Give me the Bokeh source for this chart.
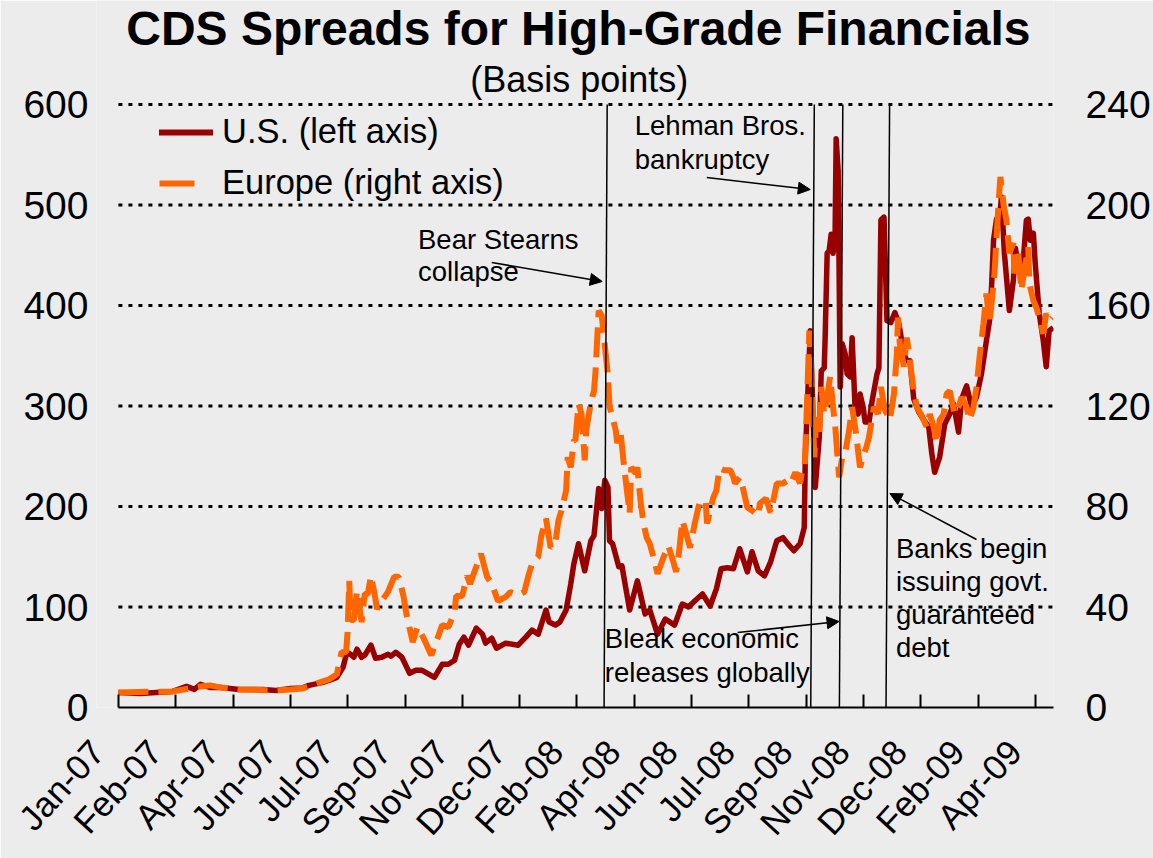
from bokeh.plotting import figure
from bokeh.models import (Range1d, LinearAxis, FixedTicker, Label, Arrow, NormalHead,
                          Legend, LegendItem, ColumnDataSource)
from bokeh.embed import file_html
from bokeh.resources import INLINE

FONT = "Liberation Sans"
BG = "#ECECEC"
US_COLOR = "#990000"
EU_COLOR = "#FF6600"

# ---------------- data ----------------
# x = business-day index from 2 Jan 2007; one axis label every 37 business days
tick_labels = ["Jan-07", "Feb-07", "Apr-07", "Jun-07", "Jul-07", "Sep-07", "Nov-07",
               "Dec-07", "Feb-08", "Apr-08", "Jun-08", "Jul-08", "Sep-08", "Nov-08",
               "Dec-08", "Feb-09", "Apr-09"]
tick_step = 37
last_day = 603.6

# U.S. CDS spreads (basis points, left axis)
us_day = [0, 14, 35, 44, 49, 53, 59, 66, 78, 93, 102, 111, 119, 123, 132, 136, 141, 143, 145, 147,
          149, 152, 154, 157, 159, 163, 166, 170, 174, 176, 179, 183, 188, 192, 196, 204, 209, 213, 217, 220,
          223, 226, 231, 235, 237, 241, 244, 250, 258, 263, 267, 271, 276, 278, 282, 285, 289, 292, 294, 297,
          301, 305, 307, 310, 312, 314, 316, 317, 319, 323, 325, 330, 335, 340, 343, 348, 353, 359, 364, 368,
          372, 377, 382, 386, 389, 393, 397, 401, 406, 409, 413, 417, 421, 425, 429, 432, 436, 440, 442.7, 443.4,
          444.7, 446.6, 448.5, 449.8, 452.4, 453.7, 455.6, 456.2, 457.5, 458.8, 460.1, 461.3, 462.6, 463.3, 464.6, 465.9,
          467.2, 469.1, 470.4, 472.3, 473.6, 475.5, 477.5, 478.7, 480.7, 482.0, 484.5, 486.5, 489.7, 490.9, 492.2, 494.2,
          496.1, 498.6, 501.2, 503.8, 507.0, 508.9, 510.9, 513.4, 516.6, 519.9, 523.1, 525.0, 526.9, 530.1, 533.4, 536.6,
          539.1, 542.3, 544.3, 547.5, 550.7, 553.9, 557.1, 560.3, 562.3, 563.6, 564.9, 566.8, 568.7, 570.0, 571.9, 575.1,
          577.7, 579.0, 581.6, 584.1, 586.1, 587.3, 588.6, 590.6, 591.8, 594.4, 597.0, 598.9, 600.8, 603.4]
us_bp = [15, 14, 16, 21, 18, 23, 20, 20, 18, 18, 17, 19, 19.5, 22, 25, 27, 30, 35, 40, 52,
         54, 50, 58, 50, 52, 62, 49, 50, 53, 51, 55, 50, 34, 37, 37, 30, 43, 43, 47, 63,
         70, 62, 79, 73, 64, 69, 59, 64, 62, 70, 77, 73, 97, 85, 82, 85, 97, 123, 143, 163,
         136, 166, 171, 218, 198, 226, 219, 166, 163, 140, 141, 97, 126, 93, 97, 73, 88, 82, 103, 100,
         106, 113, 101, 118, 138, 139, 138, 158, 135, 155, 136, 131, 145, 166, 169, 163, 156, 163, 179, 250,
         300, 375, 286, 219, 269, 335, 338, 368, 452, 455, 471, 452, 468, 566, 534, 319,
         362, 352, 332, 329, 368, 299, 292, 312, 299, 284, 284, 305, 332, 338, 485, 488,
         385, 383, 393, 382, 352, 345, 345, 307, 294, 286, 279, 253, 234, 249, 282, 292,
         302, 274, 307, 320, 299, 309, 332, 365, 385, 418, 465, 486, 485, 508, 452, 395,
         425, 457, 435, 445, 485, 486, 465, 472, 442, 392, 365, 339, 375, 378]

# Europe CDS spreads (basis points, right axis)
eu_day = [0, 35, 46, 53, 59, 66, 78, 91, 102, 111, 119, 123, 130, 136, 141, 144, 147, 148, 149, 150,
          152, 154, 157, 159, 161, 163, 165, 167, 170, 174, 178, 181, 184, 186, 190, 193, 197, 202, 206, 209,
          213, 217, 218, 222, 225, 227, 231, 234, 238, 241, 245, 250, 253, 258, 262, 265, 267, 271, 273, 276,
          279, 282, 284, 286, 289, 290, 292, 294, 295, 297, 299, 301, 302, 305, 307, 308, 310, 312, 314, 316,
          317, 321, 322, 324, 326, 328, 330, 331, 334, 335, 337, 339, 341, 343, 346, 348, 352, 355, 358, 360,
          362, 364, 366, 369, 372, 375, 379, 380, 384, 386, 388, 391, 395, 397, 398, 401, 403, 406, 409, 413,
          414, 418, 421, 423, 425, 429, 432, 434, 437, 440, 441, 443, 444.7, 446.0, 447.3, 449.2, 450.5, 452.4,
          453.7, 455.6, 457.5, 459.4, 461.3, 462.6, 465.2, 467.2, 469.1, 471.7, 473.6, 476.2, 478.7, 481.3, 482.6, 484.5,
          487.7, 490.3, 492.2, 494.8, 498.0, 500.6, 502.5, 503.2, 504.4, 507.0, 508.9, 510.9, 513.4, 515.4, 518.6, 521.8,
          523.7, 526.3, 528.2, 530.1, 532.7, 534.6, 536.6, 539.8, 542.3, 544.3, 547.5, 549.4, 552.0, 553.9, 555.9, 558.4,
          560.3, 562.3, 563.6, 565.5, 568.1, 569.3, 571.3, 573.2, 575.1, 577.7, 578.3, 580.9, 582.8, 584.8, 587.3, 588.0,
          590.6, 592.5, 594.4, 597.0, 598.9, 600.8, 602.8]
eu_bp = [6, 6.4, 7.6, 8.4, 8.8, 8, 7.2, 7, 6.8, 7.2, 7.6, 8.4, 10, 11.2, 13.2, 22, 22, 30.8, 50.4, 34.8,
         34.8, 46.4, 34, 45.2, 45.2, 52.4, 46.4, 39.2, 42.4, 46, 52, 52, 44.4, 36.8, 26, 32, 27.6, 20.8, 27.6, 32.8,
         32, 38, 44.4, 44.4, 52.4, 49.2, 56, 61.2, 52, 49.2, 42.4, 44, 46, 44.8, 46, 53.2, 57.2, 60, 68.4, 75.2,
         63.6, 65.2, 74.4, 78.4, 86.4, 99.6, 95.6, 106.4, 106.4, 120.8, 116.8, 98.4, 110.4, 121.6, 126, 134, 158, 156, 144, 132,
         120, 110.4, 105.2, 110.4, 98.4, 87.6, 77.2, 95.6, 93.2, 95.6, 82.4, 73.2, 67.6, 65.2, 58.4, 53.2, 60, 64.4, 58.4, 54,
         62.4, 74.4, 70.4, 63.6, 73.2, 81.2, 82.4, 73.2, 83.6, 86.4, 95.2, 94.4, 94.4, 91.6, 89.2, 91.6, 87.6, 79.6, 78.4, 76.4,
         81.2, 83.2, 77.6, 83.2, 89.2, 89.2, 90.4, 89.2, 93.6, 89.2, 93.2, 95.2, 124.8, 150, 132.8, 99.6, 115.6, 108.8,
         127.6, 116.8, 123.6, 131.6, 119.6, 112.8, 91.6, 99.6, 101.2, 110.4, 119.6, 108.8, 95.6, 101.2, 103.2, 107.6,
         119.6, 116.8, 127.6, 118.4, 114.4, 124.8, 140.8, 155.2, 144.8, 135.6, 147.2, 138, 126, 119.6, 116, 111.6,
         116.8, 111.6, 105.2, 114.4, 116.8, 124.8, 126, 116.8, 119.6, 123.6, 119.6, 114.4, 119.6, 127.6, 139.6, 152.8,
         164.8, 152.8, 160.8, 172.8, 200.4, 211.2, 200.4, 194, 180.8, 184.8, 172.8, 180.8, 166, 174, 183.2, 168.8,
         162, 159.2, 155.2, 148.8, 156.8, 154, 155.2]

# Event markers (business-day index at top / bottom of the hand-drawn lines)
event_day_top = [315.5, 449.2, 467.6, 497.8]
event_day_bottom = [313.5, 446.9, 465.4, 495.5]

left_ticks = [0, 100, 200, 300, 400, 500, 600]
right_ticks = [0, 40, 80, 120, 160, 200, 240]

# ---------------- figure ----------------
# The frame reaches the top of the canvas (title lives inside it) and starts a little
# left of the first date so the first rotated tick label is not culled.
Y_TOP = 703.5            # left-axis units at the top edge of the canvas
RIGHT_SCALE = 2.5        # left units per right unit
X_PAD = 14.14            # days of empty frame left of the first date
LABEL_SHIFT = 13.5       # x-axis labels sit slightly left of their tick marks

p = figure(width=1153, height=858, x_range=Range1d(-X_PAD, last_day), y_range=Range1d(0, Y_TOP),
           output_backend="svg", toolbar_location=None,
           min_border_left=96, min_border_right=96, min_border_top=0, min_border_bottom=151,
           background_fill_color=BG, border_fill_color=BG, outline_line_color=None)
p.extra_y_ranges = {"right": Range1d(0, Y_TOP / RIGHT_SCALE)}
p.extra_x_ranges = {"labels": Range1d(-X_PAD + LABEL_SHIFT, last_day + LABEL_SHIFT)}

ticks = [i * tick_step for i in range(len(tick_labels))]

# tick marks + axis line
xa = p.xaxis[0]
xa.ticker = FixedTicker(ticks=ticks)
xa.bounds = (0, last_day)
xa.major_label_text_font_size = "1px"
xa.major_label_text_color = None
xa.major_label_standoff = 0
xa.axis_line_width = 2
xa.axis_line_color = "black"
xa.major_tick_in = 13
xa.major_tick_out = 0
xa.major_tick_line_width = 2
xa.major_tick_line_color = "black"
xa.minor_tick_line_color = None

# tick labels
xl = LinearAxis(x_range_name="labels", ticker=FixedTicker(ticks=ticks))
xl.major_label_overrides = {t: lab for t, lab in zip(ticks, tick_labels)}
xl.major_label_orientation = 0.83
xl.major_label_text_font = FONT
xl.major_label_text_font_size = "35px"
xl.major_label_text_color = "black"
xl.major_label_standoff = 38
xl.axis_line_color = None
xl.major_tick_line_color = None
xl.minor_tick_line_color = None
xl.major_tick_in = 0
xl.major_tick_out = 0
p.add_layout(xl, "below")

ya = p.yaxis[0]
ya.ticker = FixedTicker(ticks=left_ticks)
ya.axis_line_color = None
ya.major_tick_line_color = None
ya.minor_tick_line_color = None
ya.major_tick_in = 0
ya.major_tick_out = 0
ya.major_label_text_font = FONT
ya.major_label_text_font_size = "39px"
ya.major_label_text_color = "black"
ya.major_label_standoff = 8

ra = LinearAxis(y_range_name="right", ticker=FixedTicker(ticks=right_ticks))
ra.axis_line_color = None
ra.major_tick_line_color = None
ra.minor_tick_line_color = None
ra.major_tick_in = 0
ra.major_tick_out = 0
ra.major_label_text_font = FONT
ra.major_label_text_font_size = "39px"
ra.major_label_text_color = "black"
ra.major_label_standoff = 32
p.add_layout(ra, "right")

# dotted horizontal grid lines spanning the dated part of the frame only
p.xgrid.grid_line_color = None
p.ygrid.grid_line_color = None
grid_vals = left_ticks[1:]
grid_src = ColumnDataSource(dict(x0=[0] * len(grid_vals), x1=[last_day] * len(grid_vals), y=grid_vals))
p.segment("x0", "y", "x1", "y", source=grid_src, line_color="black", line_width=3,
          line_dash="4 6", level="underlay")

us_src = ColumnDataSource(dict(day=us_day, bp=us_bp))
eu_src = ColumnDataSource(dict(day=eu_day, bp=eu_bp))
p.line("day", "bp", source=us_src, line_color=US_COLOR, line_width=5.5, line_join="round")
p.line("day", "bp", source=eu_src, y_range_name="right", line_color=EU_COLOR, line_width=6,
       line_dash="30 10")

ev_src = ColumnDataSource(dict(x0=event_day_top, y0=[600] * 4, x1=event_day_bottom, y1=[0] * 4))
p.segment("x0", "y0", "x1", "y1", source=ev_src, line_color="black", line_width=1.5)

# legend (off-screen single-point renderers provide the legend glyphs)
leg_us = p.line(x=[-500], y=[-500], line_color=US_COLOR, line_width=6, line_cap="round")
leg_eu = p.line(x=[-500], y=[-500], line_color=EU_COLOR, line_width=6, line_dash="35 40")
legend = Legend(items=[LegendItem(label="U.S. (left axis)", renderers=[leg_us]),
                       LegendItem(label="Europe (right axis)", renderers=[leg_eu])],
                location=(63, 505), glyph_width=54, glyph_height=38, label_height=38,
                label_standoff=9, spacing=12, padding=0, margin=0,
                background_fill_alpha=0, border_line_color=None,
                label_text_font=FONT, label_text_font_size="34.5px", label_text_color="black")
p.add_layout(legend)

# ---------------- annotations ----------------
def lab(x, y, text, size="27.5px", align="left", style="normal"):
    p.add_layout(Label(x=x, y=y, text=text, text_font=FONT, text_font_size=size,
                       text_align=align, text_baseline="middle", text_font_style=style,
                       text_color="black"))

lab(296.9, 676.0, "CDS Spreads for High-Grade Financials", size="48px", align="center", style="bold")
lab(297.5, 625.0, "(Basis points)", size="36px", align="center")

lab(193.4, 465.7, "Bear Stearns")
lab(193.4, 433.8, "collapse")
lab(333.3, 579.1, "Lehman Bros.")
lab(333.3, 545.3, "bankruptcy")
lab(314.0, 68.7, "Bleak economic")
lab(314.0, 34.8, "releases globally")
lab(501.9, 158.7, "Banks begin")
lab(501.9, 125.4, "issuing govt.")
lab(501.9, 92.5, "guaranteed")
lab(501.9, 59.7, "debt")

def arrow(x0, y0, x1, y1):
    p.add_layout(Arrow(end=NormalHead(size=12, fill_color="black", line_color="black"),
                       x_start=x0, y_start=y0, x_end=x1, y_end=y1,
                       line_color="black", line_width=1.5))

arrow(241.0, 442.8, 312.3, 423.9)
arrow(379.8, 527.4, 446.6, 515.4)
arrow(399.7, 74.6, 465.2, 85.6)
arrow(553.9, 167.2, 498.0, 212.9)

open("out.html", "w").write(file_html(p, INLINE))
